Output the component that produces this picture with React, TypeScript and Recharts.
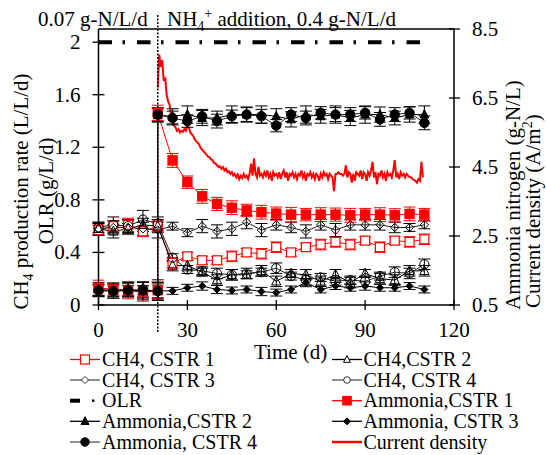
import React from 'react';
import { ComposedChart, Line, XAxis, YAxis, ErrorBar, ReferenceLine, Customized } from 'recharts';

const FONT = '"Liberation Serif", "Times New Roman", Times, serif';

// sampling days (CH4 and the control reactor)
const days = [0, 5, 10, 15, 20, 25, 30, 35, 40, 45, 50, 55, 60, 65, 70, 75, 80, 85, 90, 95, 100, 105, 110];
// ammonia days: day 20 measured before and after the NH4+ addition
const ammoniaDays = [0, 5, 10, 15, 20, 20, 25, 30, 35, 40, 45, 50, 55, 60, 65, 70, 75, 80, 85, 90, 95, 100, 105, 110];

// CH4 production rate (L/L/d)
const ch4Cstr1 = [0.57, 0.6, 0.61, 0.56, 0.6, 0.32, 0.37, 0.34, 0.34, 0.37, 0.4, 0.39, 0.44, 0.4, 0.44, 0.46, 0.48, 0.46, 0.49, 0.44, 0.49, 0.48, 0.5];
const ch4Cstr2 = [0.58, 0.56, 0.58, 0.61, 0.6, 0.3, 0.3, 0.25, 0.19, 0.23, 0.23, 0.26, 0.18, 0.24, 0.23, 0.18, 0.23, 0.17, 0.24, 0.2, 0.19, 0.26, 0.26];
const ch4Cstr3 = [0.58, 0.59, 0.59, 0.58, 0.57, 0.6, 0.55, 0.6, 0.56, 0.58, 0.63, 0.57, 0.61, 0.59, 0.56, 0.61, 0.57, 0.61, 0.61, 0.61, 0.59, 0.59, 0.61];
const ch4Cstr4 = [0.59, 0.61, 0.6, 0.65, 0.62, 0.36, 0.27, 0.26, 0.24, 0.23, 0.24, 0.25, 0.28, 0.22, 0.19, 0.21, 0.18, 0.19, 0.18, 0.22, 0.25, 0.24, 0.31];
const ch4Err1 = [0.04, 0.04, 0.05, 0.04, 0.04, 0.04, 0.03, 0.03, 0.03, 0.04, 0.03, 0.04, 0.04, 0.03, 0.03, 0.04, 0.04, 0.04, 0.03, 0.04, 0.03, 0.04, 0.04];
const ch4Err2 = [0.04, 0.05, 0.04, 0.05, 0.05, 0.04, 0.04, 0.03, 0.04, 0.04, 0.03, 0.04, 0.04, 0.03, 0.04, 0.04, 0.04, 0.04, 0.03, 0.04, 0.04, 0.04, 0.04];
const ch4Err3 = [0.05, 0.05, 0.05, 0.05, 0.06, 0.03, 0.03, 0.05, 0.05, 0.05, 0.05, 0.05, 0.04, 0.04, 0.05, 0.04, 0.05, 0.04, 0.04, 0.04, 0.04, 0.03, 0.03];
const ch4Err4 = [0.04, 0.06, 0.05, 0.07, 0.05, 0.03, 0.03, 0.03, 0.04, 0.04, 0.04, 0.03, 0.04, 0.03, 0.04, 0.03, 0.03, 0.03, 0.04, 0.03, 0.04, 0.04, 0.04];

// ammonia nitrogen (g-N/L)
const ammCstr1 = [1.0, 0.95, 0.93, 0.89, 0.93, 6.07, 4.69, 4.06, 3.65, 3.43, 3.32, 3.24, 3.19, 3.15, 3.12, 3.12, 3.12, 3.12, 3.1, 3.12, 3.12, 3.1, 3.14, 3.12];
const ammCstr2 = [0.95, 0.92, 0.95, 0.9, 0.93, 6.0, 5.97, 6.02, 5.92, 5.92, 6.02, 6.02, 6.02, 5.97, 5.88, 6.02, 5.97, 6.02, 5.92, 6.02, 6.02, 5.92, 6.02, 6.02];
const ammCstr4 = [0.92, 0.9, 0.93, 0.95, 0.9, 6.02, 5.92, 5.83, 5.97, 5.83, 5.97, 6.02, 5.97, 5.7, 6.02, 5.92, 6.07, 6.02, 6.02, 6.07, 5.88, 6.02, 6.07, 5.78];
const ammCstr3 = [0.93, 0.9, 0.92, 0.88, 0.91, 0.91, 1.0, 1.05, 0.95, 0.92, 0.95, 0.89, 0.86, 0.95, 1.15, 0.95, 1.05, 1.0, 1.05, 1.0, 1.0, 1.05, 0.95];
const ammErr1 = [0.22, 0.18, 0.25, 0.28, 0.24, 0.22, 0.2, 0.18, 0.2, 0.19, 0.2, 0.18, 0.2, 0.19, 0.21, 0.18, 0.2, 0.19, 0.2, 0.18, 0.2, 0.19, 0.2, 0.18];
const ammErr2 = [0.2, 0.22, 0.2, 0.25, 0.3, 0.2, 0.22, 0.25, 0.22, 0.2, 0.25, 0.22, 0.25, 0.22, 0.22, 0.25, 0.2, 0.25, 0.22, 0.25, 0.22, 0.2, 0.22, 0.25];
const ammErr4 = [0.18, 0.2, 0.2, 0.22, 0.25, 0.2, 0.2, 0.18, 0.2, 0.2, 0.18, 0.2, 0.2, 0.18, 0.2, 0.2, 0.18, 0.2, 0.2, 0.18, 0.2, 0.2, 0.18, 0.2];
const ammErr3 = [0.15, 0.15, 0.15, 0.18, 0.2, 0.1, 0.1, 0.12, 0.12, 0.1, 0.1, 0.12, 0.1, 0.1, 0.12, 0.1, 0.1, 0.1, 0.12, 0.1, 0.1, 0.1, 0.1];

// OLR (g/L/d)
const olrDays = [0, 110];
const olrValues = [2, 2];

// current density (A/m2), logged every half day from day 20
const currentStartDay = 20;
const currentStepDays = 0.5;
const currentDensity = [
  6.8, 7.76, 7.4, 7.6, 7.0, 7.1, 6.6, 6.4, 6.3, 6.0,
  5.9, 5.7, 5.65, 5.55, 5.6, 5.5, 5.55, 5.52, 5.6, 5.55,
  5.7, 5.65, 5.5, 5.45, 5.4, 5.3, 5.25, 5.2, 5.15, 5.05,
  5.0, 4.95, 4.9, 4.85, 4.8, 4.78, 4.72, 4.7, 4.62, 4.6,
  4.55, 4.5, 4.52, 4.45, 4.5, 4.4, 4.45, 4.35, 4.38, 4.3,
  4.35, 4.25, 4.3, 4.2, 4.28, 4.15, 4.25, 4.18, 4.3, 4.2,
  4.25, 4.15, 4.3, 4.6, 4.25, 4.75, 4.3, 4.2, 4.5, 4.25,
  4.3, 4.2, 4.35, 4.25, 4.4, 4.2, 4.3, 4.1, 4.35, 4.25,
  4.3, 4.2, 4.35, 4.15, 4.3, 4.4, 4.2, 4.35, 4.1, 4.3,
  4.25, 4.35, 4.2, 4.3, 4.15, 4.3, 4.25, 4.4, 4.2, 4.3,
  4.1, 4.3, 4.25, 4.35, 4.2, 4.3, 4.15, 4.3, 4.25, 4.1,
  4.3, 4.2, 4.35, 4.25, 4.3, 4.15, 4.3, 4.25, 4.2, 3.8,
  4.3, 4.3, 4.35, 4.3, 4.3, 4.25, 4.3, 4.55, 4.2, 4.35,
  4.3, 4.05, 4.3, 4.1, 4.35, 4.3, 4.25, 4.4, 4.15, 4.35,
  4.3, 4.1, 4.35, 4.25, 4.4, 4.65, 4.2, 4.35, 4.0, 4.3,
  4.25, 4.4, 4.2, 4.3, 4.1, 4.35, 4.25, 4.3, 4.2, 4.4,
  4.7, 4.2, 4.3, 4.15, 4.35, 4.25, 4.3, 4.2, 4.3, 4.25,
  4.2, 4.2, 4.15, 4.12, 4.1, 4.05, 4.15, 4.1, 4.65, 4.2,
];

const additionDay = 20;
const xTicks = [0, 30, 60, 90, 120];
const leftTicks = [0, 0.4, 0.8, 1.2, 1.6, 2];
const rightTicks = [0.5, 2.5, 4.5, 6.5, 8.5];

const legendLeft = ['CH4, CSTR 1', 'CH4, CSTR 3', 'OLR', 'Ammonia,CSTR 2', 'Ammonia, CSTR 4'];
const legendRight = ['CH4,CSTR 2', 'CH4, CSTR 4', 'Ammonia,CSTR 1', 'Ammonia, CSTR 3', 'Current density'];

const rows = (xs: number[], ys: number[], errs?: number[]) =>
  xs.map((x, i) => ({ x, y: ys[i], err: errs ? errs[i] : 0 }));

const ch4Rows1 = rows(days, ch4Cstr1, ch4Err1);
const ch4Rows2 = rows(days, ch4Cstr2, ch4Err2);
const ch4Rows3 = rows(days, ch4Cstr3, ch4Err3);
const ch4Rows4 = rows(days, ch4Cstr4, ch4Err4);
const ammRows1 = rows(ammoniaDays, ammCstr1, ammErr1);
const ammRows2 = rows(ammoniaDays, ammCstr2, ammErr2);
const ammRows4 = rows(ammoniaDays, ammCstr4, ammErr4);
const ammRows3 = rows(days, ammCstr3, ammErr3);
const olrRows = rows(olrDays, olrValues);
const currentRows = currentDensity.map((v, i) => ({ x: currentStartDay + i * currentStepDays, y: v }));

type Shape = 'square' | 'triangle' | 'diamond' | 'circle';

const Marker = ({ shape, cx, cy, s, fill, stroke }: { shape: Shape; cx: number; cy: number; s: number; fill: string; stroke: string }) => {
  if (shape === 'square') return <rect x={cx - s} y={cy - s} width={2 * s} height={2 * s} fill={fill} stroke={stroke} strokeWidth={1.2} />;
  if (shape === 'triangle')
    return <polygon points={`${cx},${cy - s * 1.15} ${cx + s},${cy + s * 0.8} ${cx - s},${cy + s * 0.8}`} fill={fill} stroke={stroke} strokeWidth={1} />;
  if (shape === 'diamond')
    return <polygon points={`${cx},${cy - s} ${cx + s},${cy} ${cx},${cy + s} ${cx - s},${cy}`} fill={fill} stroke={stroke} strokeWidth={1} />;
  return <circle cx={cx} cy={cy} r={s} fill={fill} stroke={stroke} strokeWidth={1} />;
};

const dotOf = (shape: Shape, s: number, fill: string, stroke: string) => (props: any) => {
  const { cx, cy, index } = props;
  if (cx == null || cy == null) return <g key={`e-${index}`} />;
  return (
    <g key={`m-${index}`}>
      <Marker shape={shape} cx={cx} cy={cy} s={s} fill={fill} stroke={stroke} />
    </g>
  );
};

const LeftTick = ({ x, y, payload }: any) => (
  <g>
    <line x1={x - 6} x2={x + 6} y1={y} y2={y} stroke="#000" strokeWidth={1.3} />
    <text x={x - 18} y={y + 7} textAnchor="end" fontSize={21} fontFamily={FONT} fill="#000">
      {String(payload.value)}
    </text>
  </g>
);

const RightTick = ({ x, y, payload }: any) => (
  <g>
    <line x1={x - 5} x2={x + 6} y1={y} y2={y} stroke="#000" strokeWidth={1.3} />
    <text x={x + 18} y={y + 7} textAnchor="start" fontSize={21} fontFamily={FONT} fill="#000">
      {String(payload.value)}
    </text>
  </g>
);

const BottomTick = ({ x, y, payload }: any) => (
  <g>
    <line x1={x} x2={x} y1={y - 5} y2={y + 5} stroke="#000" strokeWidth={1.3} />
    <text x={x} y={y + 32} textAnchor="middle" fontSize={21} fontFamily={FONT} fill="#000">
      {String(payload.value)}
    </text>
  </g>
);

const AdditionLine = (p: any) => (
  <line
    x1={p.x1}
    x2={p.x2}
    y1={Math.min(p.y1, p.y2) - 14}
    y2={Math.max(p.y1, p.y2) + 27}
    stroke="#000"
    strokeWidth={1.5}
    strokeDasharray="2 1.5"
  />
);

const LegendIcon = ({ name, x0, cy }: { name: string; x0: number; cy: number }) => {
  const x1 = x0 + 30;
  const mid = x0 + 15;
  const seg = (color: string, w = 1.3) => <line x1={x0} x2={x1} y1={cy} y2={cy} stroke={color} strokeWidth={w} />;
  switch (name) {
    case 'CH4, CSTR 1':
      return <g>{seg('#ff0000')}<Marker shape="square" cx={mid} cy={cy} s={4.5} fill="#fff" stroke="#ff0000" /></g>;
    case 'CH4, CSTR 3':
      return <g>{seg('#555')}<Marker shape="diamond" cx={mid} cy={cy} s={3.5} fill="#fff" stroke="#333" /></g>;
    case 'OLR':
      return (
        <g>
          <line x1={x0} x2={x0 + 10} y1={cy} y2={cy} stroke="#000" strokeWidth={4} />
          <rect x={x0 + 22} y={cy - 1.2} width={2.4} height={2.4} fill="#000" />
        </g>
      );
    case 'Ammonia,CSTR 2':
      return <g>{seg('#000')}<Marker shape="triangle" cx={mid} cy={cy} s={4} fill="#000" stroke="#000" /></g>;
    case 'Ammonia, CSTR 4':
      return <g>{seg('#555')}<Marker shape="circle" cx={mid} cy={cy} s={4.2} fill="#000" stroke="#000" /></g>;
    case 'CH4,CSTR 2':
      return <g>{seg('#000')}<Marker shape="triangle" cx={mid} cy={cy} s={3.5} fill="#fff" stroke="#000" /></g>;
    case 'CH4, CSTR 4':
      return <g>{seg('#555')}<Marker shape="circle" cx={mid} cy={cy} s={3.3} fill="#fff" stroke="#333" /></g>;
    case 'Ammonia,CSTR 1':
      return <g>{seg('#ff0000')}<Marker shape="square" cx={mid} cy={cy} s={4.2} fill="#ff0000" stroke="#ff0000" /></g>;
    case 'Ammonia, CSTR 3':
      return <g>{seg('#000')}<Marker shape="diamond" cx={mid} cy={cy} s={3.5} fill="#000" stroke="#000" /></g>;
    default:
      return seg('#ff0000', 2.5);
  }
};

const Annotations = () => {
  const rowY = [359.5, 380, 400.7, 421.3, 442];
  return (
    <g fontFamily={FONT} fill="#000">
      <text x={38} y={26} fontSize={21}>0.07 g-N/L/d</text>
      <text x={167} y={26} fontSize={21}>
        NH<tspan fontSize={14} dy={5}>4</tspan>
        <tspan fontSize={14} dy={-13}>+</tspan>
        <tspan dy={8}> addition, 0.4 g-N/L/d</tspan>
      </text>
      <text transform="translate(28,191.5) rotate(-90)" textAnchor="middle" fontSize={21}>
        CH<tspan fontSize={14} dy={5}>4</tspan>
        <tspan dy={-5}> production rate (L/L/d)</tspan>
      </text>
      <text transform="translate(53,191) rotate(-90)" textAnchor="middle" fontSize={21}>
        OLR (g/L/d)
      </text>
      <text transform="translate(520,310) rotate(-90)" textAnchor="start" fontSize={21}>
        Ammonia nitrogen (g-N/L)
      </text>
      <text transform="translate(540,308) rotate(-90)" textAnchor="start" fontSize={21}>
        Current density (A/m<tspan fontSize={14} dy={-8}>2</tspan>
        <tspan dy={8}>)</tspan>
      </text>
      <text x={254} y={359} fontSize={21}>Time (d)</text>
      {legendLeft.map((label, i) => (
        <g key={label}>
          <LegendIcon name={label} x0={70} cy={rowY[i]} />
          <text x={102} y={rowY[i] + 6.5} fontSize={20}>{label}</text>
        </g>
      ))}
      {legendRight.map((label, i) => (
        <g key={label}>
          <LegendIcon name={label} x0={332} cy={rowY[i]} />
          <text x={363.5} y={rowY[i] + 6.5} fontSize={20}>{label}</text>
        </g>
      ))}
    </g>
  );
};

const App = () => {
  const axisLine = { stroke: '#000', strokeWidth: 1.5 };
  return (
    <div style={{ position: 'absolute', left: 0, top: 0, width: 546, height: 455, background: '#fff' }}>
      <ComposedChart width={546} height={455} margin={{ top: 29, right: 0, bottom: 120, left: 0 }}>
        <XAxis
          dataKey="x"
          type="number"
          domain={[0, 120]}
          ticks={xTicks}
          height={30}
          axisLine={axisLine}
          tickLine={false}
          tickSize={0}
          tickMargin={0}
          tick={<BottomTick />}
          interval={0}
        />
        <YAxis
          yAxisId="left"
          type="number"
          domain={[0, 2.1]}
          ticks={leftTicks}
          width={98.5}
          axisLine={axisLine}
          tickLine={false}
          tickSize={0}
          tickMargin={0}
          tick={<LeftTick />}
          interval={0}
        />
        <YAxis
          yAxisId="right"
          orientation="right"
          type="number"
          domain={[0.5, 8.5]}
          ticks={rightTicks}
          width={92}
          axisLine={axisLine}
          tickLine={false}
          tickSize={0}
          tickMargin={0}
          tick={<RightTick />}
          interval={0}
        />
        <ReferenceLine yAxisId="left" y={2.1} stroke="#000" strokeWidth={1.5} />

        <Line data={currentRows} dataKey="y" yAxisId="right" type="linear" stroke="#ff0000" strokeWidth={2} dot={false} isAnimationActive={false} />
        <Line data={olrRows} dataKey="y" yAxisId="left" type="linear" stroke="#000" strokeWidth={4} strokeDasharray="13.5 10.5 2.5 12" dot={false} isAnimationActive={false} />

        <Line data={ch4Rows1} dataKey="y" yAxisId="left" type="linear" stroke="#ff0000" strokeWidth={1} dot={dotOf('square', 4.5, '#fff', '#ff0000')} isAnimationActive={false}>
          <ErrorBar dataKey="err" width={6} stroke="#ff0000" strokeWidth={1} direction="y" />
        </Line>
        <Line data={ch4Rows2} dataKey="y" yAxisId="left" type="linear" stroke="#000" strokeWidth={1} dot={dotOf('triangle', 4.6, 'none', '#000')} isAnimationActive={false}>
          <ErrorBar dataKey="err" width={6} stroke="#000" strokeWidth={1} direction="y" />
        </Line>
        <Line data={ch4Rows3} dataKey="y" yAxisId="left" type="linear" stroke="#222" strokeWidth={1} dot={dotOf('diamond', 4.2, 'none', '#000')} isAnimationActive={false}>
          <ErrorBar dataKey="err" width={6} stroke="#000" strokeWidth={1} direction="y" />
        </Line>
        <Line data={ch4Rows4} dataKey="y" yAxisId="left" type="linear" stroke="#222" strokeWidth={1} dot={dotOf('circle', 4.6, 'none', '#000')} isAnimationActive={false}>
          <ErrorBar dataKey="err" width={6} stroke="#000" strokeWidth={1} direction="y" />
        </Line>

        <Line data={ammRows1} dataKey="y" yAxisId="right" type="linear" stroke="#ff0000" strokeWidth={1} dot={dotOf('square', 4.6, '#ff0000', '#ff0000')} isAnimationActive={false}>
          <ErrorBar dataKey="err" width={6} stroke="#ff0000" strokeWidth={1} direction="y" />
        </Line>
        <Line data={ammRows3} dataKey="y" yAxisId="right" type="linear" stroke="#000" strokeWidth={1} dot={dotOf('diamond', 3.6, '#000', '#000')} isAnimationActive={false}>
          <ErrorBar dataKey="err" width={6} stroke="#000" strokeWidth={1} direction="y" />
        </Line>
        <Line data={ammRows2} dataKey="y" yAxisId="right" type="linear" stroke="#000" strokeWidth={1} dot={dotOf('triangle', 4.3, '#000', '#000')} isAnimationActive={false}>
          <ErrorBar dataKey="err" width={6} stroke="#000" strokeWidth={1} direction="y" />
        </Line>
        <Line data={ammRows4} dataKey="y" yAxisId="right" type="linear" stroke="#222" strokeWidth={1} dot={dotOf('circle', 4.7, '#000', '#000')} isAnimationActive={false}>
          <ErrorBar dataKey="err" width={6} stroke="#000" strokeWidth={1} direction="y" />
        </Line>

        <ReferenceLine yAxisId="left" x={additionDay} stroke="#000" shape={AdditionLine} />
        <Customized component={Annotations} />
      </ComposedChart>
    </div>
  );
};

export default App;
